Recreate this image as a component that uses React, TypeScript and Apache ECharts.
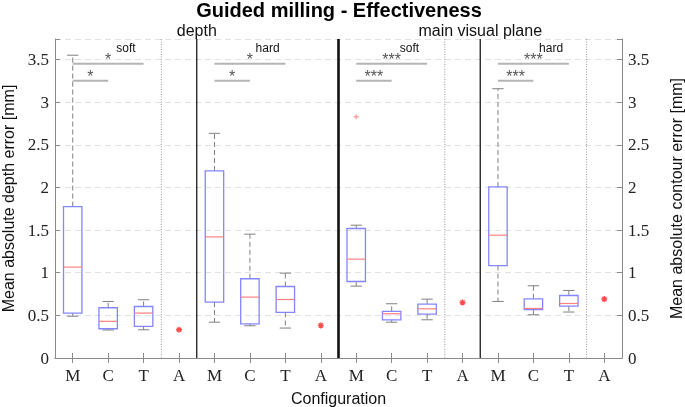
import React, { useEffect, useRef } from "react";
import * as echarts from "echarts";

const categories = ["M", "C", "T", "A", "M", "C", "T", "A", "M", "C", "T", "A", "M", "C", "T", "A"];

// Box statistics (category index -> whisker low, Q1, median, Q3, whisker high)
const boxCategory = [0, 1, 2, 4, 5, 6, 8, 9, 10, 12, 13, 14];
const whiskerLow = [0.49, 0.328, 0.331, 0.42, 0.378, 0.351, 0.843, 0.42, 0.448, 0.663, 0.507, 0.539];
const quartile1 = [0.527, 0.343, 0.37, 0.656, 0.4, 0.534, 0.897, 0.448, 0.515, 1.084, 0.566, 0.609];
const medians = [1.066, 0.43, 0.527, 1.42, 0.714, 0.686, 1.159, 0.519, 0.577, 1.44, 0.581, 0.639];
const quartile3 = [1.775, 0.589, 0.604, 2.193, 0.929, 0.838, 1.518, 0.546, 0.632, 2.006, 0.694, 0.733];
const whiskerHigh = [3.55, 0.663, 0.683, 2.634, 1.452, 0.995, 1.557, 0.636, 0.69, 3.157, 0.847, 0.792];

// Single-value configurations "A"
const aCategory = [3, 7, 11, 15];
const aValues = [0.331, 0.382, 0.651, 0.691];

// Outliers
const outlierCategory = [8];
const outlierValues = [2.829];

// Significance brackets
const bracketFrom = [0, 0, 4, 4, 8, 8, 12, 12];
const bracketTo = [2, 1, 6, 5, 10, 9, 14, 13];
const bracketLevel = [3.45, 3.25, 3.45, 3.25, 3.45, 3.25, 3.45, 3.25];
const bracketLabels = ["*", "*", "*", "*", "***", "***", "***", "***"];

// Subgroup labels (placed between the two listed categories)
const subgroupLeft = [1, 5, 9, 13];
const subgroupLevel = [3.637, 3.637, 3.637, 3.637];
const subgroupLabels = ["soft", "hard", "soft", "hard"];

// Section headers, centred on a category boundary
const sectionBoundary = [4, 12];
const sectionLabels = ["depth", "main visual plane"];

// Category boundaries for separators
const dottedBoundaries = [3, 11, 15];
const solidBoundaries = [4, 12];
const thickBoundaries = [8];

const yTicks = [0, 0.5, 1, 1.5, 2, 2.5, 3, 3.5];

const SERIF = "Liberation Serif";
const SANS = "Liberation Sans";

function boundarySeries(list: number[], style: any) {
  return {
    type: "custom",
    xAxisIndex: 0,
    yAxisIndex: 0,
    silent: true,
    z: 1,
    data: list.map((b) => [b, 0]),
    renderItem: (params: any, api: any) => {
      const cs = params.coordSys;
      const x = api.coord([api.value(0), 0])[0] - api.size([1, 0])[0] / 2;
      return {
        type: "line",
        shape: { x1: x, y1: cs.y, x2: x, y2: cs.y + cs.height },
        style,
      };
    },
  };
}

export default function App() {
  const ref = useRef<HTMLDivElement>(null);
  useEffect(() => {
    if (!ref.current) return;
    const chart = echarts.init(ref.current, undefined, { renderer: "svg" });

    const boxData = boxCategory.map((c, i) => [c, whiskerLow[i], quartile1[i], medians[i], quartile3[i], whiskerHigh[i]]);

    const yAxisCommon = {
      type: "value",
      min: 0,
      max: 3.74,
      interval: 0.5,
      axisLine: { show: true, lineStyle: { color: "#8a8a8a", width: 1 } },
      axisTick: { show: true, inside: true, length: 5, lineStyle: { color: "#8a8a8a" } },
      axisLabel: {
        fontFamily: SERIF,
        fontSize: 17,
        color: "#222",
        formatter: (v: number) => (yTicks.some((t) => Math.abs(t - v) < 1e-6) ? String(v) : ""),
      },
      nameLocation: "middle",
      nameTextStyle: { fontFamily: SANS, fontSize: 16, color: "#111" },
    };

    chart.setOption({
      animation: false,
      grid: { left: 55, right: 63, top: 39, bottom: 49, containLabel: false, outerBoundsMode: "none" },
      xAxis: [
        {
          type: "category",
          data: categories,
          position: "bottom",
          axisLine: { show: true, lineStyle: { color: "#8a8a8a" } },
          axisTick: { show: true, inside: true, alignWithLabel: true, length: 5, lineStyle: { color: "#8a8a8a" } },
          axisLabel: { fontFamily: SERIF, fontSize: 17, color: "#222", margin: 9, interval: 0 },
          splitLine: { show: false },
          name: "Configuration",
          nameLocation: "middle",
          nameGap: 32,
          nameTextStyle: { fontFamily: SANS, fontSize: 16, color: "#111" },
        },
        {
          type: "category",
          data: categories,
          position: "top",
          axisLine: { show: true, lineStyle: { color: "#8a8a8a" } },
          axisTick: { show: true, inside: true, alignWithLabel: true, length: 5, lineStyle: { color: "#8a8a8a" } },
          axisLabel: { show: false },
        },
      ],
      yAxis: [
        {
          ...yAxisCommon,
          position: "left",
          name: "Mean absolute depth error [mm]",
          nameGap: 37,
          axisLabel: { ...yAxisCommon.axisLabel, margin: 6 },
          splitLine: { show: true, lineStyle: { color: "#e2e2e2", type: [6, 4], width: 1 } },
        },
        {
          ...yAxisCommon,
          position: "right",
          name: "Mean absolute contour error [mm]",
          nameGap: 46,
          axisLabel: { ...yAxisCommon.axisLabel, margin: 6 },
          splitLine: { show: false },
        },
      ],
      graphic: [
        {
          type: "text",
          x: 339,
          y: 10,
          style: {
            text: "Guided milling - Effectiveness",
            fontFamily: SANS,
            fontWeight: "bold",
            fontSize: 20,
            fill: "#000",
            textAlign: "center",
            textVerticalAlign: "middle",
          },
        },
      ],
      series: [
        boundarySeries(dottedBoundaries, { stroke: "#9a9a9a", lineWidth: 1, lineDash: [1, 1.5] }),
        boundarySeries(solidBoundaries, { stroke: "#1a1a1a", lineWidth: 1.3 }),
        boundarySeries(thickBoundaries, { stroke: "#111", lineWidth: 2.6 }),
        {
          type: "custom",
          silent: true,
          z: 3,
          data: boxData,
          encode: { x: 0, y: [1, 2, 3, 4, 5] },
          renderItem: (params: any, api: any) => {
            const c = api.value(0);
            const bw = api.size([1, 0])[0];
            const x = api.coord([c, 0])[0];
            const yLo = api.coord([c, api.value(1)])[1];
            const yQ1 = api.coord([c, api.value(2)])[1];
            const yMed = api.coord([c, api.value(3)])[1];
            const yQ3 = api.coord([c, api.value(4)])[1];
            const yHi = api.coord([c, api.value(5)])[1];
            const hw = bw * 0.26;
            const cw = bw * 0.16;
            const whisk = { stroke: "#808080", lineWidth: 1, lineDash: [5, 3] };
            const cap = { stroke: "#808080", lineWidth: 1 };
            return {
              type: "group",
              children: [
                { type: "line", shape: { x1: x, y1: yQ3, x2: x, y2: yHi }, style: whisk },
                { type: "line", shape: { x1: x, y1: yQ1, x2: x, y2: yLo }, style: whisk },
                { type: "line", shape: { x1: x - cw, y1: yHi, x2: x + cw, y2: yHi }, style: cap },
                { type: "line", shape: { x1: x - cw, y1: yLo, x2: x + cw, y2: yLo }, style: cap },
                {
                  type: "rect",
                  shape: { x: x - hw, y: yQ3, width: hw * 2, height: yQ1 - yQ3 },
                  style: { fill: "none", stroke: "#8585ff", lineWidth: 1.3 },
                },
                {
                  type: "line",
                  shape: { x1: x - hw, y1: yMed, x2: x + hw, y2: yMed },
                  style: { stroke: "#ff8080", lineWidth: 1.2 },
                },
              ],
            };
          },
        },
        {
          type: "scatter",
          z: 4,
          silent: true,
          data: aCategory.map((c, i) => [c, aValues[i]]),
          symbol: "path://M5,0L5,10M0,5L10,5M1.5,1.5L8.5,8.5M8.5,1.5L1.5,8.5",
          symbolSize: 6,
          itemStyle: { color: "#ff2020", borderColor: "#ff2020", borderWidth: 1.4 },
        },
        {
          type: "scatter",
          z: 4,
          silent: true,
          data: outlierCategory.map((c, i) => [c, outlierValues[i]]),
          symbol: "path://M5,0L5,10M0,5L10,5",
          symbolSize: 5,
          itemStyle: { color: "#ff8a8a", borderColor: "#ff8a8a", borderWidth: 1.4 },
        },
        {
          type: "custom",
          silent: true,
          z: 5,
          data: bracketFrom.map((f, i) => [f, bracketTo[i], bracketLevel[i]]),
          renderItem: (params: any, api: any) => {
            const i = params.dataIndex;
            const x1 = api.coord([api.value(0), api.value(2)])[0];
            const x2 = api.coord([api.value(1), api.value(2)])[0];
            const y = api.coord([api.value(0), api.value(2)])[1];
            return {
              type: "group",
              children: [
                { type: "line", shape: { x1, y1: y, x2, y2: y }, style: { stroke: "#b4b4b4", lineWidth: 2 } },
                {
                  type: "text",
                  x: (x1 + x2) / 2,
                  y: y - 4,
                  style: {
                    text: bracketLabels[i],
                    fontFamily: SANS,
                    fontSize: 16,
                    fill: "#555",
                    textAlign: "center",
                    textVerticalAlign: "middle",
                  },
                },
              ],
            };
          },
        },
        {
          type: "custom",
          silent: true,
          z: 5,
          data: subgroupLeft.map((c, i) => [c, subgroupLevel[i]]),
          renderItem: (params: any, api: any) => {
            const i = params.dataIndex;
            const c = api.value(0);
            const xa = api.coord([c, api.value(1)])[0];
            const xb = api.coord([c + 1, api.value(1)])[0];
            const y = api.coord([c, api.value(1)])[1];
            return {
              type: "text",
              x: (xa + xb) / 2,
              y,
              style: {
                text: subgroupLabels[i],
                fontFamily: SANS,
                fontSize: 12,
                fill: "#111",
                textAlign: "center",
                textVerticalAlign: "middle",
              },
            };
          },
        },
        {
          type: "custom",
          silent: true,
          z: 5,
          data: sectionBoundary.map((b) => [b, 0]),
          renderItem: (params: any, api: any) => {
            const i = params.dataIndex;
            const x = api.coord([api.value(0), 0])[0] - api.size([1, 0])[0] / 2;
            return {
              type: "text",
              x,
              y: params.coordSys.y - 9,
              style: {
                text: sectionLabels[i],
                fontFamily: SANS,
                fontSize: 16,
                fill: "#111",
                textAlign: "center",
                textVerticalAlign: "middle",
              },
            };
          },
        },
      ],
    });
    return () => chart.dispose();
  }, []);
  return <div ref={ref} style={{ position: "fixed", left: 0, top: 0, width: 685, height: 407 }} />;
}
